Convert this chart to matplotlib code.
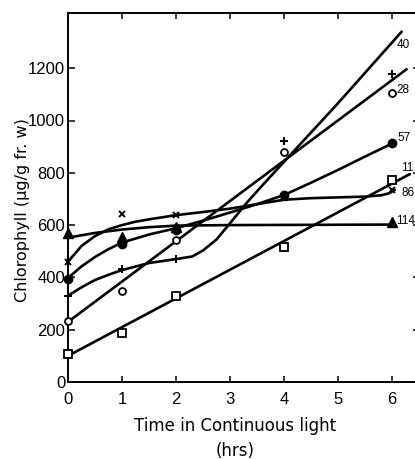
import matplotlib
matplotlib.use("Agg")
import matplotlib.pyplot as plt

plt.rcParams['font.family'] = ['DejaVu Sans']
NUMFAM = ['Liberation Sans', 'DejaVu Sans']

# measured points (hours, chlorophyll)
hours = [0, 1, 2, 4, 6]
sq_y = [107, 187, 329, 517, 772]          # label 11
circ_y = [234, 348, 543, 881, 1104]       # label 28
plus_y = [329, 431, 470, 923, 1178]       # label 40
dot_y = [393, 527, 583, 715, 913]         # label 57
cross_y = [460, 642, 639, 705, 733]       # label 86
tri_x = [0, 1, 2, 6]
tri_y = [571, 555, 594, 613]              # label 114

# hand-drawn fitted curves
sq_fit_x = [0, 6.33]
sq_fit_y = [100, 795]
circ_fit_x = [0, 6.27]
circ_fit_y = [230, 1196]
plus_fit_x = [0, 0.25, 0.5, 0.75, 1, 1.5, 2, 2.3, 2.5, 2.75, 3.0, 3.3, 3.6, 4, 5, 6.18]
plus_fit_y = [330, 362, 390, 410, 428, 455, 470, 480, 503, 545, 607, 683, 752, 842, 1066, 1340]
dot_fit_x = [0, 0.25, 0.5, 0.75, 1, 1.5, 2, 2.5, 3, 3.5, 4, 4.5, 5, 5.5, 6]
dot_fit_y = [398, 442, 478, 508, 533, 564, 588, 617, 648, 680, 715, 762, 811, 862, 912]
cross_fit_x = [0, 0.25, 0.5, 0.75, 1, 1.25, 1.5, 2, 2.5, 3, 3.5, 4, 4.5, 5, 5.5, 5.8, 5.95, 6.05]
cross_fit_y = [460, 520, 558, 584, 600, 613, 622, 638, 650, 663, 680, 697, 703, 706, 709, 714, 722, 735]
tri_fit_x = [0, 0.5, 1, 1.5, 2, 3, 6]
tri_fit_y = [552, 570, 583, 592, 598, 600, 602]

end_labels = ["40", "28", "57", "11", "86", "114"]
end_label_x = [6.09, 6.09, 6.11, 6.17, 6.17, 6.08]
end_label_y = [1289, 1117, 933, 820, 723, 616]

xticks = [0, 1, 2, 3, 4, 5, 6]
yticks = [0, 200, 400, 600, 800, 1000, 1200]

W, H = 415, 459
fig = plt.figure(figsize=(W / 100, H / 100), dpi=100)
ax = fig.add_axes([68 / W, 1 - 382 / H, (420 - 68) / W, (382 - 13) / H])
ax.set_xlim(0, 352 / 54)
ax.set_ylim(0, 369 / 0.2615)

lw = 1.9
for fx, fy in [(sq_fit_x, sq_fit_y), (circ_fit_x, circ_fit_y), (plus_fit_x, plus_fit_y),
               (dot_fit_x, dot_fit_y), (cross_fit_x, cross_fit_y), (tri_fit_x, tri_fit_y)]:
    ax.plot(fx, fy, color='black', lw=lw, solid_capstyle='round', solid_joinstyle='round',
            clip_on=False, zorder=2)

ax.plot(hours, sq_y, ls='none', marker='s', ms=5.5, mfc='white', mec='black', mew=1.3, clip_on=False, zorder=3)
ax.plot(hours, circ_y, ls='none', marker='o', ms=5, mfc='white', mec='black', mew=1.3, clip_on=False, zorder=3)
ax.plot(hours, plus_y, ls='none', marker='+', ms=5.5, mec='black', mew=1.4, clip_on=False, zorder=3)
ax.plot(hours, dot_y, ls='none', marker='o', ms=6, mfc='black', mec='black', clip_on=False, zorder=3)
ax.plot(hours, cross_y, ls='none', marker='x', ms=4, mec='black', mew=1.4, clip_on=False, zorder=3)
ax.plot(tri_x, tri_y, ls='none', marker='^', ms=6.5, mfc='black', mec='black', clip_on=False, zorder=3)

for s, x, y in zip(end_labels, end_label_x, end_label_y):
    ax.text(x, y, s, fontsize=8.5, family=NUMFAM, ha='left', va='center', clip_on=False)

for side in ['left', 'bottom', 'top', 'right']:
    ax.spines[side].set_linewidth(1.4)

ax.set_xticks(xticks)
ax.set_yticks(yticks)
ax.tick_params(axis='x', direction='in', length=4.5, width=1.1, top=True, labeltop=False,
               labelsize=12, pad=7)
ax.tick_params(axis='y', direction='in', length=5, width=1.1, right=True, labelright=False,
               labelsize=12, pad=2)
for lab in ax.get_yticklabels() + ax.get_xticklabels():
    lab.set_family(NUMFAM)

fig.text(235 / W, 1 - 438.5 / H, "Time in Continuous light\n(hrs)", ha='center', va='center',
         fontsize=12, linespacing=1.5)
fig.text(22 / W, 1 - 210 / H, "Chlorophyll (μg/g fr. w)", ha='center', va='center',
         rotation=90, fontsize=11.5)

fig.savefig("out.png", dpi=100)
